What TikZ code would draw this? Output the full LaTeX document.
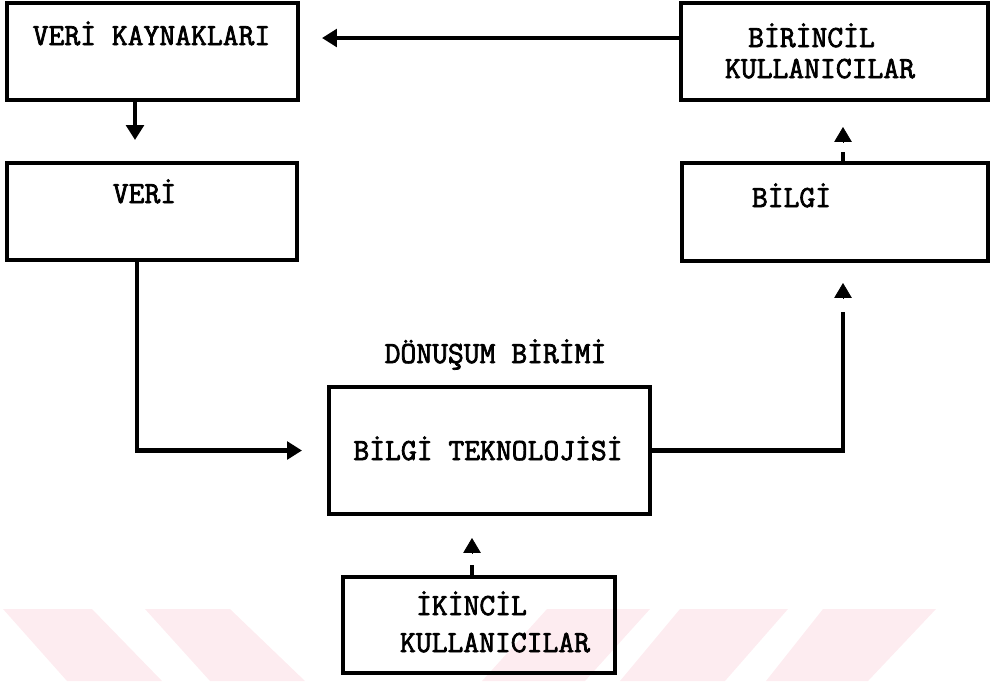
\documentclass[tikz,border=0pt]{standalone}
\usepackage{fontspec}
\newfontfamily\daktilo{Latin Modern Mono}[FakeBold=2.4]
\usetikzlibrary{arrows.meta}
\definecolor{wmpink}{RGB}{253,236,240}

\begin{document}
\begin{tikzpicture}[x=0.02cm,y=-0.02cm,
    kutu/.style={draw,line width=2.4pt,inner sep=0pt},
    yazi/.style={font=\daktilo\fontsize{17.5}{17.6}\selectfont,anchor=base,inner sep=0pt},
    hat/.style={line width=2.4pt},
    ok/.style={hat,-{Triangle[length=8.5pt,width=10pt]}},
    uc/.style={-{Triangle[length=8.5pt,width=10pt]}}]
  \useasboundingbox (0,0) rectangle (990,681);
  % filigran
  \fill[wmpink] (3,609) -- (92,609) -- (162,681) -- (67,681) -- cycle;
  \fill[wmpink] (145,609) -- (230,609) -- (305,681) -- (210,681) -- cycle;
  \fill[wmpink] (547,609) -- (650,609) -- (585,681) -- (482,681) -- cycle;
  \fill[wmpink] (680,609) -- (788,609) -- (725,681) -- (620,681) -- cycle;
  \fill[wmpink] (823,609) -- (936,609) -- (868,681) -- (766,681) -- cycle;

  \node[kutu,minimum width=5.82cm,minimum height=1.94cm] (kaynak) at (152.5,51.5) {};
  \node[kutu,minimum width=5.80cm,minimum height=1.94cm] (veri) at (152,211.5) {};
  \node[kutu,minimum width=6.14cm,minimum height=1.94cm] (birincil) at (834.5,51.5) {};
  \node[kutu,minimum width=6.12cm,minimum height=1.96cm] (bilgi) at (835,212) {};
  \node[kutu,minimum width=6.42cm,minimum height=2.54cm] (teknoloji) at (489.5,450.5) {};
  \node[kutu,minimum width=5.44cm,minimum height=1.92cm] (ikincil) at (479,625) {};

  \node[yazi] (kaynakyazi) at (151.5,45) {VERİ KAYNAKLARI};
  \node[yazi] (veriyazi) at (144.5,203) {VERİ};
  \node[yazi] (biryazi1) at (811.5,47) {BİRİNCİL};
  \node[yazi] (biryazi2) at (820,78) {KULLANICILAR};
  \node[yazi] (bilgiyazi) at (791.5,207) {BİLGİ};
  \node[yazi] (donusum) at (495.5,363) {DÖNUŞUM BİRİMİ};
  \node[yazi] (tekyazi) at (488,460) {BİLGİ TEKNOLOJİSİ};
  \node[yazi] (ikiyazi1) at (471.5,615) {İKİNCİL};
  \node[yazi] (ikiyazi2) at (495,652) {KULLANICILAR};

  \coordinate (sol) at (322,38);
  \draw[ok] (birincil.west |- sol) -- (sol);
  \coordinate (asagi) at (135,140);
  \draw[ok] (kaynak.south -| asagi) -- (asagi);
  \coordinate (kose1) at (137,450.5);
  \coordinate (giris) at (302,450.5);
  \draw[ok] (veri.south -| kose1) -- (kose1) -- (giris);

  \coordinate (kose2) at (843,312);
  \draw[hat] (teknoloji.east) -| (kose2);
  \coordinate (uc2a) at (843,298);
  \coordinate (uc2b) at (843,283);
  \draw[uc] (uc2a) -- (uc2b);

  \coordinate (kose3) at (843,152);
  \draw[hat] (bilgi.north -| kose3) -- (kose3);
  \coordinate (uc3a) at (843,142);
  \coordinate (uc3b) at (843,127);
  \draw[uc] (uc3a) -- (uc3b);

  \coordinate (kose4) at (472,565);
  \draw[hat] (ikincil.north -| kose4) -- (kose4);
  \coordinate (uc4a) at (472,553);
  \coordinate (uc4b) at (472,538);
  \draw[uc] (uc4a) -- (uc4b);
\end{tikzpicture}
\end{document}
